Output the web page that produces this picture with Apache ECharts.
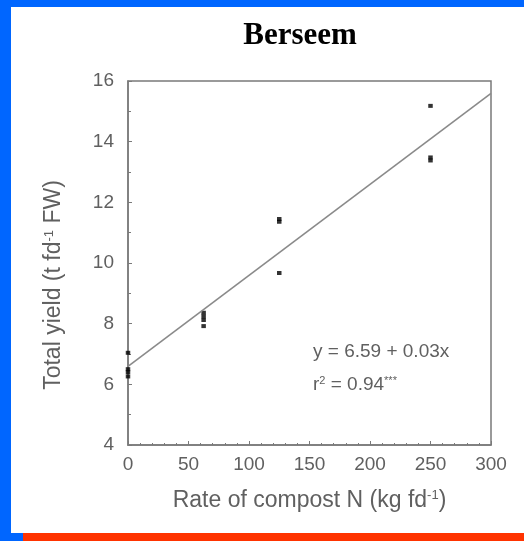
<!DOCTYPE html>
<html>
<head>
<meta charset="utf-8">
<script src="https://cdn.jsdelivr.net/npm/echarts@6/dist/echarts.min.js"></script>
<style>
html,body{margin:0;padding:0;background:#fff;}
#c{width:524px;height:541px;}
</style>
</head>
<body>
<div id="c"></div>
<script>
// Data
var titleText = 'Berseem';
var compostN = [0, 0, 0, 0, 62.5, 62.5, 62.5, 62.5, 125, 125, 125, 250, 250, 250];
var totalYield = [7.04, 6.50, 6.40, 6.26, 8.36, 8.24, 8.12, 7.92, 11.45, 11.36, 9.67, 15.18, 13.48, 13.38];
var intercept = 6.59;
var slope = 0.03;
var lineX = [0, 300];
var xTicks = {min: 0, max: 300, interval: 50};
var yTicks = {min: 4, max: 16, interval: 2};

var points = compostN.map(function (x, i) { return [x, totalYield[i]]; });
var fitLine = lineX.map(function (x) { return [x, intercept + slope * x]; });

var chart = echarts.init(document.getElementById('c'), null, {renderer: 'canvas'});
var txt = '#606060';
var frame = '#7a7a7a';
var sans = 'Liberation Sans, Arial, sans-serif';

chart.setOption({
  animation: false,
  backgroundColor: '#ffffff',
  grid: {left: 128, right: 33, top: 81, bottom: 96, show: true, borderColor: frame, borderWidth: 1.5, backgroundColor: 'transparent'},
  xAxis: {
    type: 'value', min: xTicks.min, max: xTicks.max, interval: xTicks.interval,
    name: 'Rate of compost N (kg fd{sup|-1})',
    nameLocation: 'middle', nameGap: 44,
    nameTextStyle: {color: txt, fontFamily: sans, fontSize: 23,
      rich: {sup: {fontSize: 13, color: txt, fontFamily: sans, verticalAlign: 'top', padding: [0, 0, 10, 0]}}},
    axisLine: {show: true, lineStyle: {color: frame, width: 1.5}},
    axisTick: {show: true, inside: true, length: 4, lineStyle: {color: frame}},
    minorTick: {show: true, splitNumber: 5, length: 2, lineStyle: {color: frame}},
    axisLabel: {color: txt, fontFamily: sans, fontSize: 19, margin: 10},
    splitLine: {show: false}
  },
  yAxis: {
    type: 'value', min: yTicks.min, max: yTicks.max, interval: yTicks.interval,
    axisLine: {show: true, lineStyle: {color: frame, width: 1.5}},
    axisTick: {show: true, inside: true, length: 4, lineStyle: {color: frame}},
    minorTick: {show: true, splitNumber: 2, length: 3, lineStyle: {color: frame}},
    axisLabel: {color: txt, fontFamily: sans, fontSize: 19, margin: 14},
    splitLine: {show: false}
  },
  series: [
    {
      type: 'line', data: fitLine, symbol: 'none', silent: true,
      lineStyle: {color: '#8a8a8a', width: 1.6}, clip: true
    },
    {
      type: 'scatter', data: points, symbol: 'rect', symbolSize: [4.5, 4],
      itemStyle: {color: '#000'}
    }
  ],
  graphic: [
    {type: 'rect', shape: {x: 0, y: 0, width: 524, height: 7}, style: {fill: '#0066ff'}},
    {type: 'rect', shape: {x: 0, y: 0, width: 11, height: 541}, style: {fill: '#0066ff'}},
    {type: 'rect', shape: {x: 0, y: 533, width: 23, height: 8}, style: {fill: '#0066ff'}},
    {type: 'rect', shape: {x: 23, y: 533, width: 501, height: 8}, style: {fill: '#ff3300'}},
    {type: 'text', x: 300, y: 36, style: {text: titleText, fill: '#000', font: 'bold 31px "Liberation Serif", "Times New Roman", serif', align: 'center', verticalAlign: 'middle'}},
    {type: 'text', x: 54, y: 285, rotation: Math.PI / 2,
      style: {text: 'Total yield (t fd{sup|-1} FW)', fill: txt, fontFamily: sans, fontSize: 23, align: 'center', verticalAlign: 'middle',
        rich: {sup: {fontSize: 13, fill: txt, fontFamily: sans, verticalAlign: 'top', padding: [0, 0, 10, 0]}}}},
    {type: 'text', x: 313, y: 352, style: {text: 'y = ' + intercept.toFixed(2) + ' + ' + slope.toFixed(2) + 'x', fill: txt, fontFamily: sans, fontSize: 19, align: 'left', verticalAlign: 'middle'}},
    {type: 'text', x: 313, y: 385, style: {text: 'r{sup|2} = 0.94{sup|***}', fill: txt, fontFamily: sans, fontSize: 19, align: 'left', verticalAlign: 'middle',
      rich: {sup: {fontSize: 11, fill: txt, fontFamily: sans, verticalAlign: 'top', padding: [0, 0, 8, 0]}}}}
  ]
});
</script>
</body>
</html>
